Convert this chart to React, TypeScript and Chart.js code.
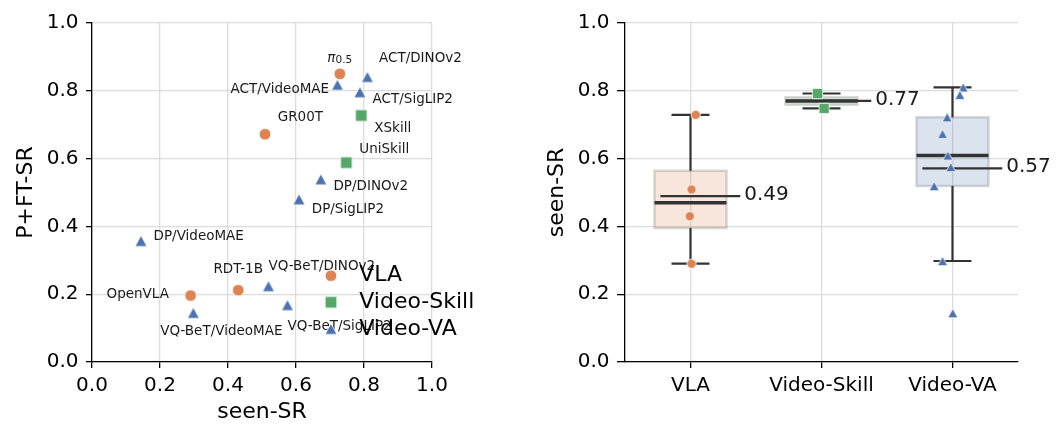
import { useEffect, useRef } from "react";
import { Chart, registerables } from "chart.js";

Chart.register(...registerables);

const FONT = "'DejaVu Sans', 'Liberation Sans', sans-serif";
const GRID = "#dcdcdc";
const INK = "#000000";
const BOX_LINE = "#333333";
const ORANGE = "#DD8452";
const BLUE = "#4C72B0";
const GREEN = "#55A868";

// Method families
const groups = ["VLA", "Video-Skill", "Video-VA"];

// VLA models: seen-SR and P+FT-SR
const vlaNames = ["π0.5", "GR00T", "RDT-1B", "OpenVLA"];
const vlaSeen = [0.729, 0.509, 0.43, 0.29];
const vlaPft = [0.85, 0.672, 0.212, 0.196];

// Video-Skill models
const skillNames = ["XSkill", "UniSkill"];
const skillSeen = [0.792, 0.748];
const skillPft = [0.727, 0.588];

// Video-VA models (policy head / visual encoder)
const vaNames = [
  "ACT/DINOv2",
  "ACT/SigLIP2",
  "ACT/VideoMAE",
  "DP/DINOv2",
  "DP/SigLIP2",
  "VQ-BeT/DINOv2",
  "VQ-BeT/SigLIP2",
  "DP/VideoMAE",
  "VQ-BeT/VideoMAE",
];
const vaSeen = [0.81, 0.788, 0.722, 0.673, 0.609, 0.519, 0.575, 0.144, 0.298];
const vaPft = [0.841, 0.796, 0.818, 0.539, 0.48, 0.224, 0.168, 0.357, 0.145];

// Horizontal strip jitter (category units) for the box-plot points
const vlaJitter = [0.04, 0.008, -0.005, 0.008];
const skillJitter = [-0.03, 0.02];
const vaJitter = [0.082, 0.056, -0.041, -0.076, -0.036, -0.14, -0.013, 0.002, -0.076];

const tickValues = [0, 0.2, 0.4, 0.6, 0.8, 1.0];

type Align = "left" | "right" | "center";

// Text label offsets (px) from each scatter point
const labelPlacement: Record<string, [number, number, Align]> = {
  "GR00T": [12.7, -17, "left"],
  "RDT-1B": [0, -21, "center"],
  "OpenVLA": [-21.7, -0.7, "right"],
  "XSkill": [13, 12.6, "left"],
  "UniSkill": [13, -12.7, "left"],
  "ACT/DINOv2": [11.6, -18, "left"],
  "ACT/SigLIP2": [12.7, 7, "left"],
  "ACT/VideoMAE": [-8.4, 4.6, "right"],
  "DP/DINOv2": [12.6, 7.4, "left"],
  "DP/SigLIP2": [12.7, 10.7, "left"],
  "VQ-BeT/DINOv2": [0, -20, "left"],
  "VQ-BeT/SigLIP2": [0, 21.7, "left"],
  "DP/VideoMAE": [12.6, -4.3, "left"],
  "VQ-BeT/VideoMAE": [28, 18.3, "center"],
};

type Shape = "circle" | "square" | "triangle";

function makeMarker(shape: Shape, color: string, w: number, h: number): HTMLCanvasElement {
  const c = document.createElement("canvas");
  c.width = Math.ceil(w + 4);
  c.height = Math.ceil(h + 4);
  const ctx = c.getContext("2d")!;
  const cx = c.width / 2;
  const cy = c.height / 2;
  ctx.beginPath();
  if (shape === "circle") ctx.arc(cx, cy, w / 2, 0, Math.PI * 2);
  else if (shape === "square") ctx.rect(cx - w / 2, cy - h / 2, w, h);
  else {
    ctx.moveTo(cx, cy - h / 2);
    ctx.lineTo(cx + w / 2, cy + h / 2);
    ctx.lineTo(cx - w / 2, cy + h / 2);
    ctx.closePath();
  }
  ctx.fillStyle = color;
  ctx.fill();
  ctx.strokeStyle = "#ffffff";
  ctx.lineWidth = 0.8;
  ctx.stroke();
  return c;
}

function rgba(hex: string, a: number) {
  const n = parseInt(hex.slice(1), 16);
  return `rgba(${(n >> 16) & 255},${(n >> 8) & 255},${n & 255},${a})`;
}

function quantile(sorted: number[], q: number) {
  const pos = (sorted.length - 1) * q;
  const lo = Math.floor(pos);
  const hi = Math.ceil(pos);
  return sorted[lo] + (sorted[hi] - sorted[lo]) * (pos - lo);
}

function boxStats(values: number[]) {
  const s = [...values].sort((a, b) => a - b);
  const q1 = quantile(s, 0.25);
  const med = quantile(s, 0.5);
  const q3 = quantile(s, 0.75);
  const iqr = q3 - q1;
  const lowW = s.find((v) => v >= q1 - 1.5 * iqr)!;
  const highW = [...s].reverse().find((v) => v <= q3 + 1.5 * iqr)!;
  const mean = s.reduce((a, b) => a + b, 0) / s.length;
  return { q1, med, q3, lowW, highW, mean };
}

const tickFont = { family: FONT, size: 20 };
const titleFont = { family: FONT, size: 22 };

function valueAxis(width: number, tickLen: number, titlePad: number, title: string) {
  return {
    type: "linear" as const,
    min: 0,
    max: 1,
    afterBuildTicks: (s: any) => {
      s.ticks = tickValues.map((v) => ({ value: v }));
    },
    afterFit: (s: any) => {
      s.width = width;
    },
    ticks: {
      font: tickFont,
      color: INK,
      padding: 7.5,
      callback: (v: any) => Number(v).toFixed(1),
    },
    grid: { color: GRID, lineWidth: 1.3, tickColor: INK, tickLength: tickLen, tickWidth: 1.3 },
    border: { color: INK, width: 1.3 },
    title: { display: true, text: title, font: titleFont, color: INK, padding: { top: titlePad, bottom: 0 } },
  };
}

function ScatterPanel() {
  const ref = useRef<HTMLCanvasElement>(null);
  useEffect(() => {
    const mCircle = makeMarker("circle", ORANGE, 11.7, 11.7);
    const mSquare = makeMarker("square", GREEN, 11.7, 11.7);
    const mTri = makeMarker("triangle", BLUE, 12, 11);

    const series = [
      { names: vlaNames, xs: vlaSeen, ys: vlaPft, marker: mCircle, label: groups[0] },
      { names: skillNames, xs: skillSeen, ys: skillPft, marker: mSquare, label: groups[1] },
      { names: vaNames, xs: vaSeen, ys: vaPft, marker: mTri, label: groups[2] },
    ];

    const decor = {
      id: "scatterDecor",
      afterDatasetsDraw(chart: any) {
        const { ctx, scales, chartArea } = chart;
        const xs = scales.x;
        const ys = scales.y;
        ctx.save();
        ctx.fillStyle = "#1a1a1a";
        ctx.textBaseline = "middle";
        series.forEach((sr) => {
          sr.names.forEach((name, i) => {
            const px = xs.getPixelForValue(sr.xs[i]);
            const py = ys.getPixelForValue(sr.ys[i]);
            if (name === "π0.5") {
              ctx.textBaseline = "alphabetic";
              ctx.textAlign = "left";
              ctx.font = `italic 13.5px ${FONT}`;
              ctx.fillText("π", px - 12.5, py - 12.3);
              ctx.font = `10.5px ${FONT}`;
              ctx.fillText("0.5", px - 4.3, py - 10.7);
              ctx.textBaseline = "middle";
              return;
            }
            const [dx, dy, align] = labelPlacement[name];
            ctx.font = `13.5px ${FONT}`;
            ctx.textAlign = align;
            ctx.fillText(name, px + dx, py + dy);
          });
        });
        // legend (no frame), inside the axes
        ctx.font = `22px ${FONT}`;
        ctx.textAlign = "left";
        ctx.fillStyle = INK;
        series.forEach((sr, i) => {
          const mx = chartArea.left + 239;
          const my = chartArea.top + 252.7 + i * 26.6;
          const m = sr.marker;
          ctx.drawImage(m, mx - m.width / 2, my - m.height / 2);
          ctx.fillText(sr.label, chartArea.left + 267.3, my);
        });
        ctx.restore();
      },
    };

    const chart = new Chart(ref.current!, {
      type: "scatter",
      data: {
        datasets: series.map((sr) => ({
          label: sr.label,
          data: sr.xs.map((x, i) => ({ x, y: sr.ys[i] })),
          pointStyle: sr.marker,
          pointRadius: 6,
        })),
      },
      options: {
        responsive: false,
        animation: false,
        events: [],
        layout: { padding: { top: 23, right: 88, left: 0, bottom: 0 } },
        plugins: { legend: { display: false }, tooltip: { enabled: false } },
        scales: {
          x: {
            type: "linear",
            min: 0,
            max: 1,
            afterBuildTicks: (s: any) => {
              s.ticks = tickValues.map((v) => ({ value: v }));
            },
            afterFit: (s: any) => {
              s.height = 81;
            },
            ticks: {
              font: tickFont,
              color: INK,
              padding: 6,
              maxRotation: 0,
              callback: (v: any) => Number(v).toFixed(1),
            },
            grid: { color: GRID, lineWidth: 1.3, tickColor: INK, tickLength: 6, tickWidth: 1.3 },
            border: { color: INK, width: 1.3 },
            title: { display: true, text: "seen-SR", font: titleFont, color: INK, padding: { top: 0, bottom: 17.4 } },
          },
          y: valueAxis(92, 6, 12.9, "P+FT-SR") as any,
        },
      },
      plugins: [decor],
    });
    return () => chart.destroy();
  }, []);
  return (
    <canvas
      ref={ref}
      width={520}
      height={443}
      style={{ position: "absolute", left: 0, top: 0, width: 520, height: 443 }}
    />
  );
}

function BoxPanel() {
  const ref = useRef<HTMLCanvasElement>(null);
  useEffect(() => {
    const colors = [ORANGE, GREEN, BLUE];
    const values = [vlaSeen, skillSeen, vaSeen];
    const jitters = [vlaJitter, skillJitter, vaJitter];
    const markers = [
      makeMarker("circle", ORANGE, 9.3, 9.3),
      makeMarker("square", GREEN, 10.3, 10.3),
      makeMarker("triangle", BLUE, 10, 9.3),
    ];
    const BOX_HALF = 0.275;
    const CAP_HALF = 0.145;
    const MEAN_FROM = -0.23;
    const MEAN_TO = 0.38;
    const MEAN_TEXT = 0.41;

    const boxes = {
      id: "boxes",
      beforeDatasetsDraw(chart: any) {
        const { ctx, scales } = chart;
        const xs = scales.x;
        const ys = scales.y;
        const unit = xs.getPixelForValue(1) - xs.getPixelForValue(0);
        ctx.save();
        values.forEach((vals, gi) => {
          const st = boxStats(vals);
          const cx = xs.getPixelForValue(gi);
          const yq1 = ys.getPixelForValue(st.q1);
          const yq3 = ys.getPixelForValue(st.q3);
          const hw = BOX_HALF * unit;
          // box
          ctx.fillStyle = rgba(colors[gi], 0.2);
          ctx.fillRect(cx - hw, yq3, 2 * hw, yq1 - yq3);
          ctx.strokeStyle = "rgba(63,63,63,0.2)";
          ctx.lineWidth = 2.5;
          ctx.strokeRect(cx - hw, yq3, 2 * hw, yq1 - yq3);
          // whiskers and caps
          ctx.strokeStyle = BOX_LINE;
          ctx.lineWidth = 2.2;
          const cw = CAP_HALF * unit;
          const yLo = ys.getPixelForValue(st.lowW);
          const yHi = ys.getPixelForValue(st.highW);
          ctx.beginPath();
          ctx.moveTo(cx, yq1);
          ctx.lineTo(cx, yLo);
          ctx.moveTo(cx, yq3);
          ctx.lineTo(cx, yHi);
          ctx.moveTo(cx - cw, yLo);
          ctx.lineTo(cx + cw, yLo);
          ctx.moveTo(cx - cw, yHi);
          ctx.lineTo(cx + cw, yHi);
          ctx.stroke();
          // median
          const yMed = ys.getPixelForValue(st.med);
          ctx.lineWidth = 3.5;
          ctx.beginPath();
          ctx.moveTo(cx - hw, yMed);
          ctx.lineTo(cx + hw, yMed);
          ctx.stroke();
          // mean line with its value
          const yMean = ys.getPixelForValue(st.mean);
          ctx.lineWidth = 2.3;
          ctx.beginPath();
          ctx.moveTo(cx + MEAN_FROM * unit, yMean);
          ctx.lineTo(cx + MEAN_TO * unit, yMean);
          ctx.stroke();
          ctx.fillStyle = "#1a1a1a";
          ctx.font = `20px ${FONT}`;
          ctx.textAlign = "left";
          ctx.textBaseline = "middle";
          ctx.fillText(st.mean.toFixed(2), cx + MEAN_TEXT * unit, yMean - 1.5);
        });
        ctx.restore();
      },
    };

    const chart = new Chart(ref.current!, {
      type: "scatter",
      data: {
        datasets: values.map((vals, gi) => ({
          label: groups[gi],
          data: vals.map((v, i) => ({ x: gi + jitters[gi][i], y: v })),
          pointStyle: markers[gi],
          pointRadius: 5,
        })),
      },
      options: {
        responsive: false,
        animation: false,
        events: [],
        layout: { padding: { top: 23, right: 46, left: 0, bottom: 0 } },
        plugins: { legend: { display: false }, tooltip: { enabled: false } },
        scales: {
          x: {
            type: "linear",
            min: -0.5,
            max: 2.5,
            afterBuildTicks: (s: any) => {
              s.ticks = groups.map((_, i) => ({ value: i }));
            },
            afterFit: (s: any) => {
              s.height = 81;
            },
            ticks: {
              font: tickFont,
              color: INK,
              padding: 6,
              maxRotation: 0,
              autoSkip: false,
              callback: (v: any) => groups[Math.round(Number(v))],
            },
            grid: { color: GRID, lineWidth: 1.3, tickColor: INK, tickLength: 6, tickWidth: 1.3 },
            border: { color: INK, width: 1.3 },
          },
          y: valueAxis(105, 8, 24.2, "seen-SR") as any,
        },
      },
      plugins: [boxes],
    });
    return () => chart.destroy();
  }, []);
  return (
    <canvas
      ref={ref}
      width={544}
      height={443}
      style={{ position: "absolute", left: 520, top: 0, width: 544, height: 443 }}
    />
  );
}

export default function App() {
  return (
    <div style={{ position: "absolute", left: 0, top: 0, width: 1064, height: 443, background: "#ffffff" }}>
      <ScatterPanel />
      <BoxPanel />
    </div>
  );
}
